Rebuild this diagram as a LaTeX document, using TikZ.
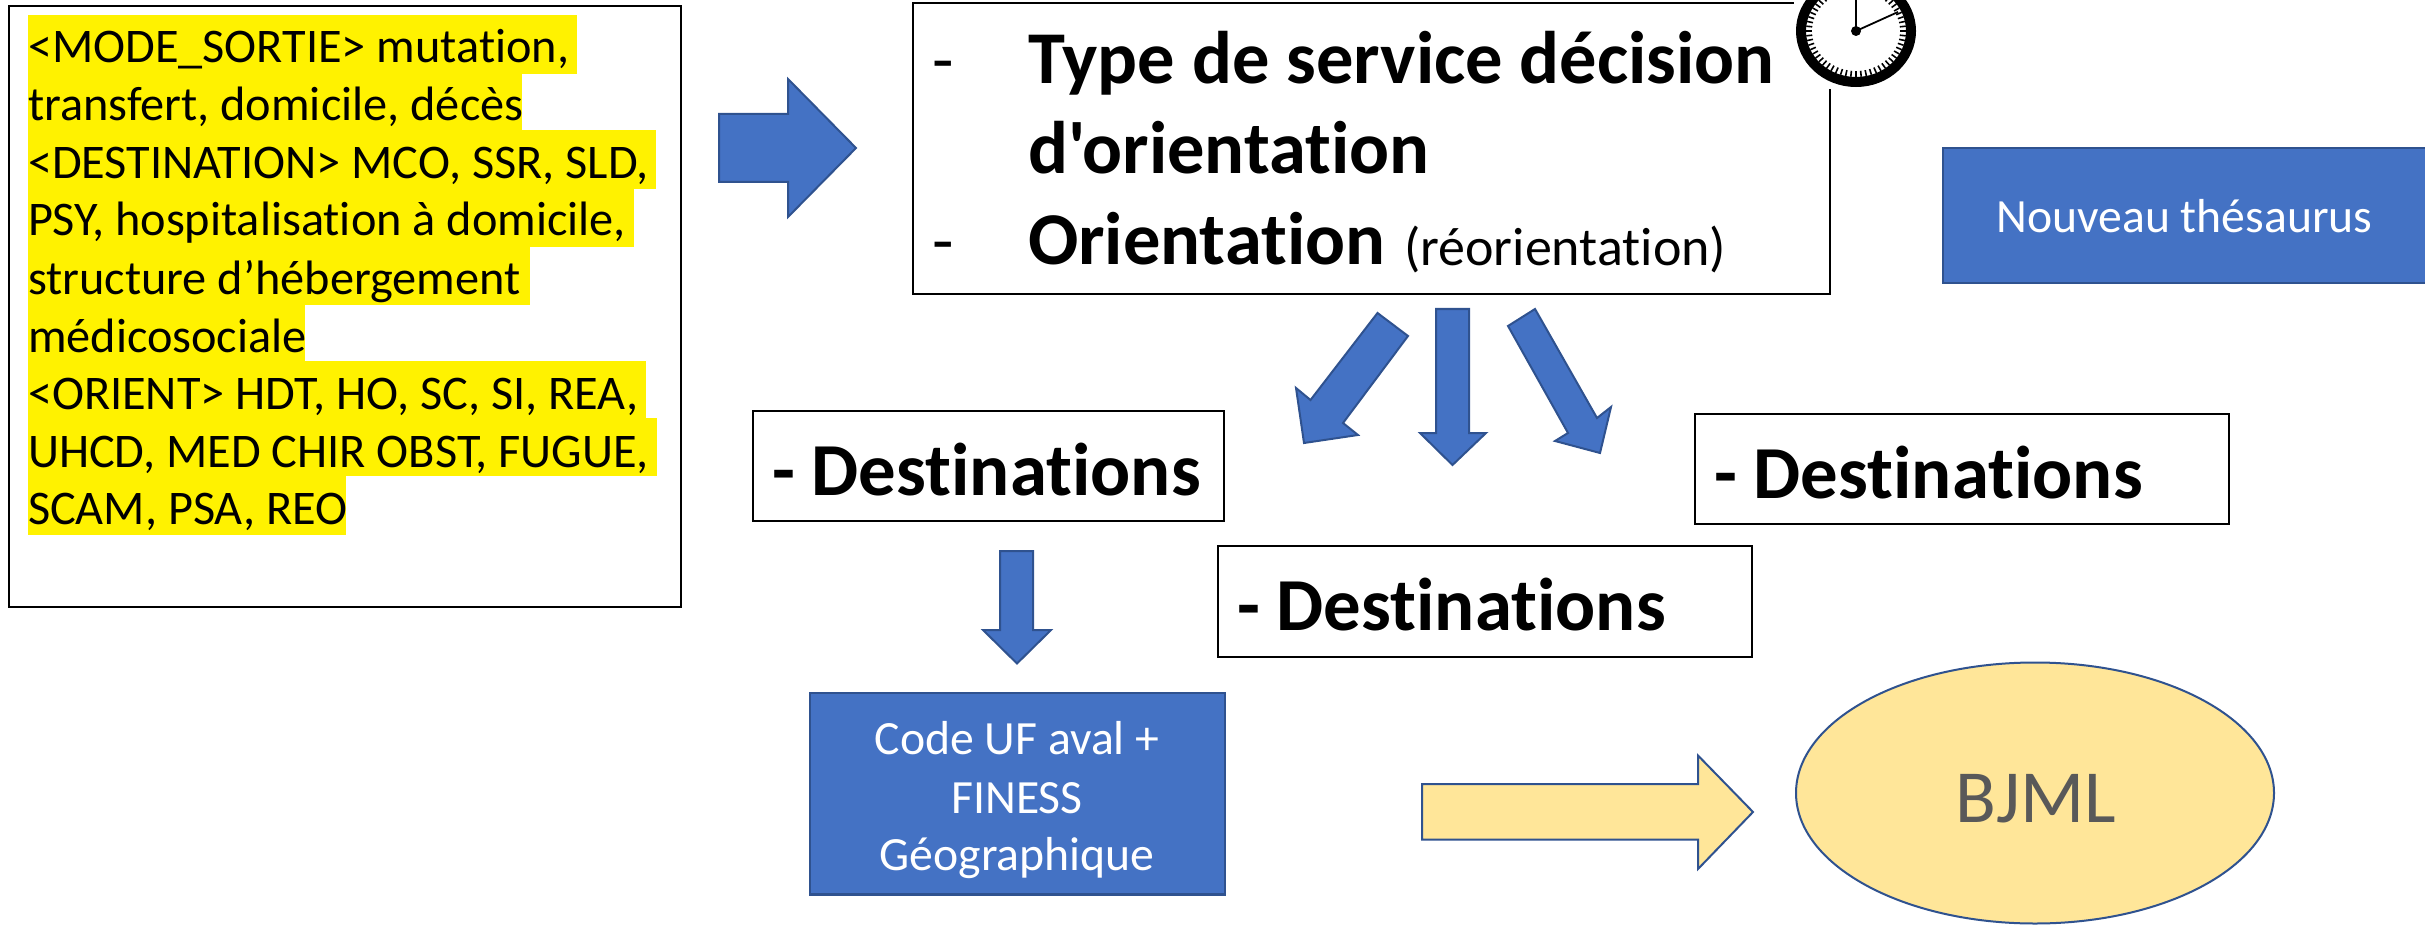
\documentclass[tikz,border=0pt]{standalone}
\usepackage{fontspec}
\usetikzlibrary{shapes.geometric}
\setmainfont[Ligatures={NoCommon,TeXOff}]{Carlito}
\newcommand{\pxfont}[1]{\pgfmathsetlengthmacro{\pxsz}{#1*0.5}\fontsize{\pxsz}{\pxsz}\selectfont}
\definecolor{bluefill}{HTML}{4472C4}
\definecolor{blueline}{HTML}{2F528F}
\definecolor{paleyellow}{HTML}{FFE699}
\definecolor{bjmlgray}{HTML}{595959}
\tikzset{
  whitebox/.style={draw=black,line width=1pt,fill=white},
  blockarrow/.style={fill=bluefill,draw=blueline,line width=1pt,line join=miter},
  bluebox/.style={fill=bluefill,draw=blueline,line width=1.2pt},
  txt/.style={inner sep=0pt,outer sep=0pt,anchor=base west},
  ctxt/.style={inner sep=0pt,outer sep=0pt,anchor=base},
  hl/.style={fill=yellow,draw=none},
  leftline/.style={txt,font=\pxfont{48.3}},
  bigbold/.style={txt,font=\pxfont{74.5}\bfseries},
  destbold/.style={txt,font=\pxfont{74.8}\bfseries},
  whitetxt/.style={ctxt,text=white,font=\pxfont{47.7}},
}
\begin{document}
\begin{tikzpicture}[x=0.5pt,y=-0.5pt]
\useasboundingbox (0,0) rectangle (2425,925);
\clip (0,0) rectangle (2425,925);
% left box
\draw[whitebox] (9,6) rectangle (681,607);
\fill[hl] (28,15) rectangle (577,74);
\fill[hl] (28,74) rectangle (522,130);
\fill[hl] (28,130) rectangle (656,189);
\fill[hl] (28,189) rectangle (634,247);
\fill[hl] (28,247) rectangle (530,305);
\fill[hl] (28,305) rectangle (305,361);
\fill[hl] (28,361) rectangle (646,418);
\fill[hl] (28,418) rectangle (657,476);
\fill[hl] (28,476) rectangle (346,535);
\node[leftline] (l1) at (28,63) {<MODE\_SORTIE> mutation,};
\node[leftline] (l2) at (28,121) {transfert, domicile, décès};
\node[leftline] (l3) at (28,179) {<DESTINATION> MCO, SSR, SLD,};
\node[leftline] (l4) at (28,236) {PSY, hospitalisation à domicile,};
\node[leftline] (l5) at (28,294) {structure d’hébergement};
\node[leftline] (l6) at (28,352) {médicosociale};
\node[leftline] (l7) at (28,409) {<ORIENT> HDT, HO, SC, SI, REA,};
\node[leftline] (l8) at (28,467) {UHCD, MED CHIR OBST, FUGUE,};
\node[leftline] (l9) at (28,524) {SCAM, PSA, REO};
% arrow 1
\draw[blockarrow] (719,114) -- (788,114) -- (788,79) -- (856,148) -- (788,217) -- (788,182) -- (719,182) -- cycle;
% main box
\draw[whitebox] (912.5,3) rectangle (1830,294);
\node[txt,font=\pxfont{70}] (d1) at (932,84) {-};
\node[bigbold] (t1) at (1028,84) {Type de service décision};
\node[bigbold] (t2) at (1028,174) {d'orientation};
\node[txt,font=\pxfont{70}] (d2) at (932,264) {-};
\node[bigbold] (t3) at (1028,264) {Orientation};
\node[txt,font=\pxfont{54}] (t4) at (1404,266) {(réorientation)};
% clock
\fill[white] (1794,-2) rectangle (1925,89);
\draw[black,line width=5pt,fill=white] (1856,31) ellipse[x radius=55,y radius=51];
\foreach \a in {0,6,...,354}{
  \draw[black,line width=0.8pt] ({1856+50*cos(\a)},{31+46*sin(\a)}) -- ({1856+44*cos(\a)},{31+40*sin(\a)});
}
\draw[black,line width=1.2pt] (1856,31) -- (1856,-3);
\draw[black,line width=0.9pt] (1856,31) -- (1898,12);
\fill[black] (1856,31) circle[radius=5];
% thesaurus
\draw[bluebox] (1943,148) rectangle (2428,283);
\node[whitetxt] (th) at (2184.5,233) {Nouveau thésaurus};
% three arrows
\draw[blockarrow] (1377.5,313) -- (1408,336) -- (1343,423) -- (1358,435) -- (1304,443) -- (1296,388) -- (1310.5,400) -- cycle;
\draw[blockarrow] (1436,309) -- (1469,309) -- (1469,433) -- (1486,433) -- (1452.5,465) -- (1420,433) -- (1436,433) -- cycle;
\draw[blockarrow] (1535,309) -- (1508,326) -- (1568,433) -- (1555,441) -- (1600,453) -- (1611,407) -- (1597,418) -- cycle;
% destinations
\draw[whitebox] (753,411) rectangle (1224,521);
\node[destbold] (dest1) at (772,495) {- Destinations};
\draw[whitebox] (1694.5,414) rectangle (2229,524);
\node[destbold] (dest3) at (1714,498) {- Destinations};
\draw[whitebox] (1218,546) rectangle (1752,657);
\node[destbold] (dest2) at (1237,630) {- Destinations};
% down arrow
\draw[blockarrow] (1000,551) -- (1033,551) -- (1033,630) -- (1051,630) -- (1017,663.5) -- (983,630) -- (1000,630) -- cycle;
% code box
\draw[bluebox] (810,693) rectangle (1225,894.5);
\node[whitetxt] (c1) at (1017,754) {Code UF aval +};
\node[whitetxt] (c2) at (1017,813) {FINESS};
\node[whitetxt] (c3) at (1017,870) {Géographique};
% yellow arrow
\draw[fill=paleyellow,draw=blueline,line width=1pt] (1422,784) -- (1698,784) -- (1698,755.5) -- (1753,812) -- (1698,869) -- (1698,839.6) -- (1422,839.6) -- cycle;
% ellipse
\node[ellipse,draw=blueline,fill=paleyellow,line width=1pt,inner sep=0pt,minimum width=239pt,minimum height=130.5pt] (bj) at (2035,793) {};
\node[ctxt,text=bjmlgray,font=\pxfont{75}] (bjml) at (2035.5,822) {BJML};
\end{tikzpicture}
\end{document}
